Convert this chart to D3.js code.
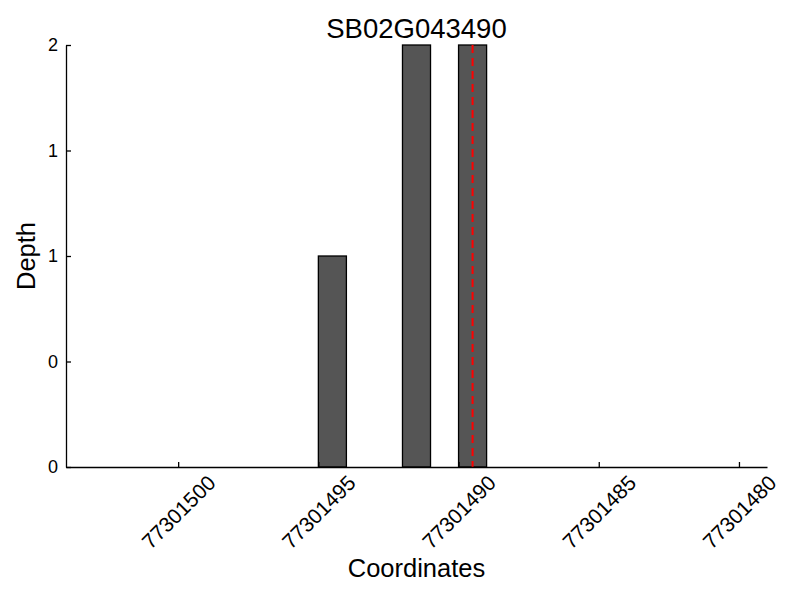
<!DOCTYPE html>
<html lang="en">
  <head>
    <meta charset="utf-8" />
    <title>SB02G043490</title>
    <script src="https://d3js.org/d3.v7.min.js" charset="utf-8"></script>
    <style>
      body {
        margin: 0;
        background: #fff;
      }
      svg {
        font-family: "Liberation Sans", Arial, Helvetica, sans-serif;
      }
      .axis path,
      .axis line {
        stroke: #000;
        stroke-width: 1.3;
      }
      .axis text {
        fill: #000;
      }
    </style>
  </head>
  <body>
    <div id="svg-container"></div>
    <script>
      // data
      const title = "SB02G043490";
      const coords = [77301494, 77301491, 77301489]; // bar start coordinate (bar spans c..c+1)
      const depths = [1, 2, 2];
      const markerCoord = 77301489.5; // red dashed line
      const xDomain = [77301504, 77301479];
      const xTicks = [77301500, 77301495, 77301490, 77301485, 77301480];
      const yTicks = [0, 0.5, 1, 1.5, 2];
      const yTickLabels = ["0", "0", "1", "1", "2"];

      const margin = { top: 45, bottom: 133, left: 66, right: 33 };
      const width = 800 - margin.left - margin.right;
      const height = 600 - margin.top - margin.bottom;

      const svg = d3.select("#svg-container")
        .append("svg")
        .attr("width", 800)
        .attr("height", 600);

      const g = svg.append("g").attr("transform", `translate(${margin.left},${margin.top})`);

      // scales
      const xscale = d3.scaleLinear().domain(xDomain).range([0, width]);
      const yscale = d3.scaleLinear().domain([0, 2]).range([height, 0]);

      const data = coords.map((c, i) => ({ coord: c, depth: depths[i] }));

      // bars
      g.selectAll("rect.bar")
        .data(data)
        .join("rect")
        .attr("class", "bar")
        .attr("x", (d) => xscale(d.coord + 1))
        .attr("width", (d) => xscale(d.coord) - xscale(d.coord + 1))
        .attr("y", (d) => yscale(d.depth))
        .attr("height", (d) => yscale(0) - yscale(d.depth))
        .attr("fill", "#555555")
        .attr("stroke", "#000")
        .attr("stroke-width", 1.3);

      // marker line
      g.append("line")
        .attr("x1", xscale(markerCoord))
        .attr("x2", xscale(markerCoord))
        .attr("y1", yscale(2))
        .attr("y2", yscale(0))
        .attr("stroke", "#ff0000")
        .attr("stroke-width", 2)
        .attr("stroke-dasharray", "8,5");

      // axes, ticks point inward
      const xaxis = d3.axisBottom(xscale)
        .tickValues(xTicks)
        .tickFormat(d3.format("d"))
        .tickSizeInner(-5)
        .tickSizeOuter(0);
      const g_xaxis = g.append("g")
        .attr("class", "x axis")
        .attr("transform", `translate(0,${height})`)
        .call(xaxis);
      g_xaxis.selectAll("text")
        .attr("font-size", 21)
        .attr("text-anchor", "middle")
        .attr("y", 0)
        .attr("dy", "0.35em")
        .attr("transform", "translate(0,45) rotate(-45)");

      const yaxis = d3.axisLeft(yscale)
        .tickValues(yTicks)
        .tickFormat((d, i) => yTickLabels[i])
        .tickSizeInner(-5)
        .tickSizeOuter(0)
        .tickPadding(8);
      const g_yaxis = g.append("g")
        .attr("class", "y axis")
        .call(yaxis);
      g_yaxis.selectAll("text").attr("font-size", 18);

      // texts
      svg.append("text")
        .attr("x", margin.left + width / 2)
        .attr("y", 38)
        .attr("text-anchor", "middle")
        .attr("font-size", 27.5)
        .text(title);

      svg.append("text")
        .attr("x", margin.left + width / 2)
        .attr("y", 577)
        .attr("text-anchor", "middle")
        .attr("font-size", 25.5)
        .text("Coordinates");

      svg.append("text")
        .attr("transform", `translate(35,${margin.top + height / 2}) rotate(-90)`)
        .attr("text-anchor", "middle")
        .attr("font-size", 25.5)
        .text("Depth");
    </script>
  </body>
</html>
